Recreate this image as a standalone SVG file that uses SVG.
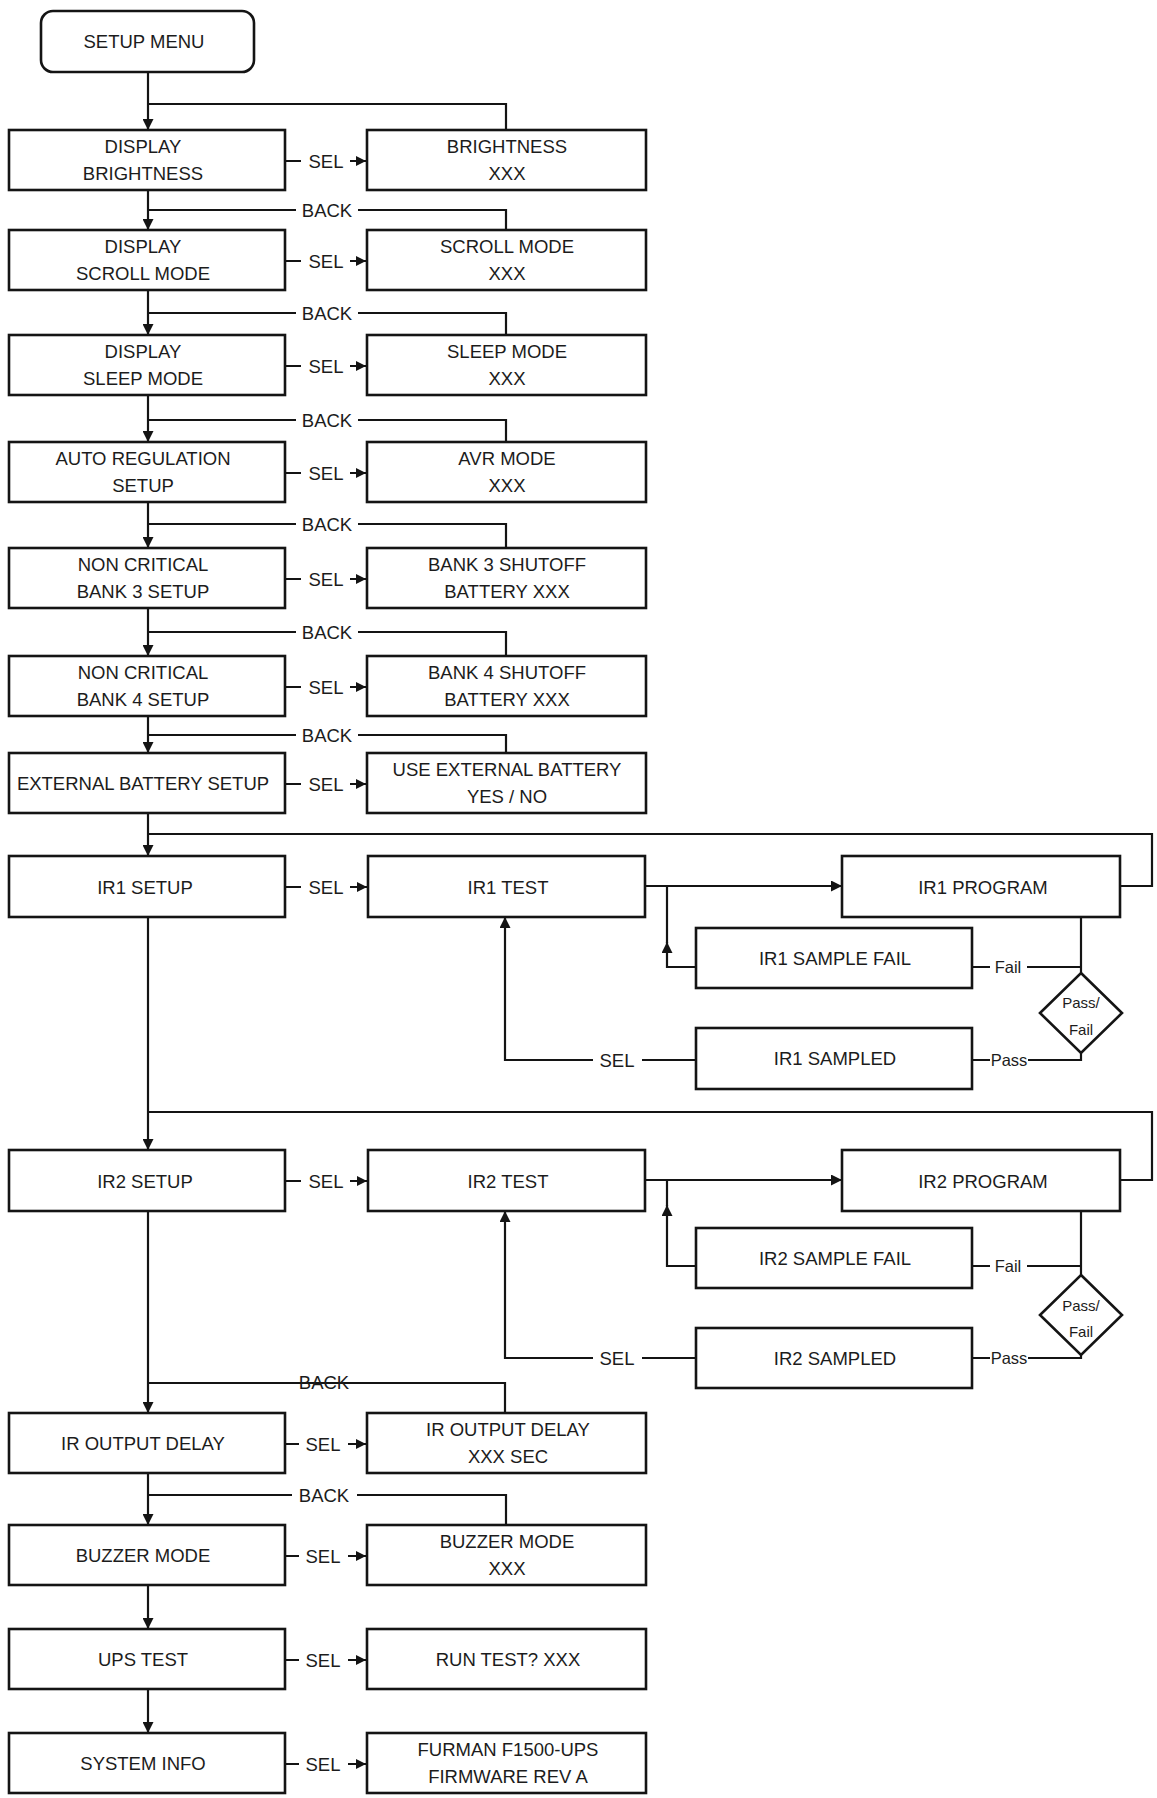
<svg xmlns="http://www.w3.org/2000/svg" width="1157" height="1798" viewBox="0 0 1157 1798">
<style>
.box{fill:#fff;stroke:#141414;stroke-width:2.6}
.ln{fill:none;stroke:#141414;stroke-width:2.2}
.t{font-family:"Liberation Sans",Arial,sans-serif;font-size:18.5px;fill:#1c1c1c;text-anchor:middle}
.s{font-size:16.5px}
.d{font-size:15px}
</style>
<defs>
<marker id="ah" viewBox="0 0 10 10" refX="10" refY="5" markerWidth="11" markerHeight="11" markerUnits="userSpaceOnUse" orient="auto"><path d="M0,0 L10,5 L0,10 z" fill="#141414"/></marker>
<marker id="as" viewBox="0 0 10 10" refX="10" refY="5" markerWidth="10" markerHeight="10" markerUnits="userSpaceOnUse" orient="auto"><path d="M0,0 L10,5 L0,10 z" fill="#141414"/></marker>
</defs>
<rect width="1157" height="1798" fill="#fff"/>

<g id="connectors">
<path class="ln" d="M148,72 V130" marker-end="url(#ah)"/>
<path class="ln" d="M148,190 V230" marker-end="url(#ah)"/>
<path class="ln" d="M148,290 V335" marker-end="url(#ah)"/>
<path class="ln" d="M148,394 V442" marker-end="url(#ah)"/>
<path class="ln" d="M148,501 V548" marker-end="url(#ah)"/>
<path class="ln" d="M148,608 V656" marker-end="url(#ah)"/>
<path class="ln" d="M148,716 V753" marker-end="url(#ah)"/>
<path class="ln" d="M148,813 V856" marker-end="url(#ah)"/>
<path class="ln" d="M148,917 V1150" marker-end="url(#ah)"/>
<path class="ln" d="M148,1211 V1413" marker-end="url(#ah)"/>
<path class="ln" d="M148,1473 V1525" marker-end="url(#ah)"/>
<path class="ln" d="M148,1585 V1629" marker-end="url(#ah)"/>
<path class="ln" d="M148,1689 V1733" marker-end="url(#ah)"/>

<path class="ln" d="M148,104 H506 V130"/>
<path class="ln" d="M148,210 H296 M358,210 H506 V230"/>
<text class="t" x="327" y="216.5">BACK</text>
<path class="ln" d="M148,313 H296 M358,313 H506 V335"/>
<text class="t" x="327" y="319.5">BACK</text>
<path class="ln" d="M148,420 H296 M358,420 H506 V442"/>
<text class="t" x="327" y="426.5">BACK</text>
<path class="ln" d="M148,524 H296 M358,524 H506 V548"/>
<text class="t" x="327" y="530.5">BACK</text>
<path class="ln" d="M148,632 H296 M358,632 H506 V656"/>
<text class="t" x="327" y="638.5">BACK</text>
<path class="ln" d="M148,735 H296 M358,735 H506 V753"/>
<text class="t" x="327" y="741.5">BACK</text>
<path class="ln" d="M148,1383 H505 V1413"/>
<text class="t" x="324" y="1388.5">BACK</text>
<path class="ln" d="M148,1495 H292 M357,1495 H506 V1525"/>
<text class="t" x="324" y="1501.5">BACK</text>

<path class="ln" d="M285,161 H301 M350,161 H366" marker-end="url(#as)"/>
<text class="t" x="326" y="167.5">SEL</text>
<path class="ln" d="M285,261 H301 M350,261 H366" marker-end="url(#as)"/>
<text class="t" x="326" y="267.5">SEL</text>
<path class="ln" d="M285,366 H301 M350,366 H366" marker-end="url(#as)"/>
<text class="t" x="326" y="372.5">SEL</text>
<path class="ln" d="M285,473 H301 M350,473 H366" marker-end="url(#as)"/>
<text class="t" x="326" y="479.5">SEL</text>
<path class="ln" d="M285,579 H301 M350,579 H366" marker-end="url(#as)"/>
<text class="t" x="326" y="585.5">SEL</text>
<path class="ln" d="M285,687 H301 M350,687 H366" marker-end="url(#as)"/>
<text class="t" x="326" y="693.5">SEL</text>
<path class="ln" d="M285,784 H301 M350,784 H366" marker-end="url(#as)"/>
<text class="t" x="326" y="790.5">SEL</text>
<path class="ln" d="M285,887 H301 M350,887 H367" marker-end="url(#as)"/>
<text class="t" x="326" y="893.5">SEL</text>
<path class="ln" d="M285,1181 H301 M350,1181 H367" marker-end="url(#as)"/>
<text class="t" x="326" y="1187.5">SEL</text>
<path class="ln" d="M285,1444 H299 M348,1444 H366" marker-end="url(#as)"/>
<text class="t" x="323" y="1450.5">SEL</text>
<path class="ln" d="M285,1556 H299 M348,1556 H366" marker-end="url(#as)"/>
<text class="t" x="323" y="1562.5">SEL</text>
<path class="ln" d="M285,1660 H299 M348,1660 H366" marker-end="url(#as)"/>
<text class="t" x="323" y="1666.5">SEL</text>
<path class="ln" d="M285,1764 H299 M348,1764 H366" marker-end="url(#as)"/>
<text class="t" x="323" y="1770.5">SEL</text>

<!-- IR1 -->
<path class="ln" d="M1120,886 H1152 V834 H148"/>
<path class="ln" d="M645,886 H842" marker-end="url(#ah)"/>
<path class="ln" d="M696,967 H667 V942" marker-end="url(#ah)"/>
<path class="ln" d="M667,943 V886"/>
<path class="ln" d="M972,967 H990 M1027,967 H1081 M1081,917 V973"/>
<text class="t s" x="1008" y="973">Fail</text>
<path class="ln" d="M1081,1053 V1060 H1028 M990,1060 H972"/>
<text class="t s" x="1009" y="1066">Pass</text>
<path class="ln" d="M696,1060 H642 M593,1060 H505 V917" marker-end="url(#ah)"/>
<text class="t" x="617" y="1066.5">SEL</text>

<!-- IR2 -->
<path class="ln" d="M1120,1180 H1152 V1112 H148"/>
<path class="ln" d="M645,1180 H842" marker-end="url(#ah)"/>
<path class="ln" d="M696,1266 H667 V1205" marker-end="url(#ah)"/>
<path class="ln" d="M667,1206 V1180"/>
<path class="ln" d="M972,1266 H990 M1027,1266 H1081 M1081,1211 V1275"/>
<text class="t s" x="1008" y="1272">Fail</text>
<path class="ln" d="M1081,1355 V1358 H1028 M990,1358 H972"/>
<text class="t s" x="1009" y="1364">Pass</text>
<path class="ln" d="M696,1358 H642 M593,1358 H505 V1211" marker-end="url(#ah)"/>
<text class="t" x="617" y="1364.5">SEL</text>
</g>

<g id="setup-menu"><rect class="box" x="41" y="11" width="213" height="61" rx="12"/><text class="t" x="144" y="48">SETUP MENU</text></g>

<g id="display-brightness"><rect class="box" x="9" y="130" width="276" height="60"/><text class="t" x="143" y="153">DISPLAY</text><text class="t" x="143" y="180">BRIGHTNESS</text></g>
<g id="brightness-xxx"><rect class="box" x="367" y="130" width="279" height="60"/><text class="t" x="507" y="153">BRIGHTNESS</text><text class="t" x="507" y="180">XXX</text></g>

<g id="display-scroll"><rect class="box" x="9" y="230" width="276" height="60"/><text class="t" x="143" y="253">DISPLAY</text><text class="t" x="143" y="280">SCROLL MODE</text></g>
<g id="scroll-xxx"><rect class="box" x="367" y="230" width="279" height="60"/><text class="t" x="507" y="253">SCROLL MODE</text><text class="t" x="507" y="280">XXX</text></g>

<g id="display-sleep"><rect class="box" x="9" y="335" width="276" height="60"/><text class="t" x="143" y="358">DISPLAY</text><text class="t" x="143" y="385">SLEEP MODE</text></g>
<g id="sleep-xxx"><rect class="box" x="367" y="335" width="279" height="60"/><text class="t" x="507" y="358">SLEEP MODE</text><text class="t" x="507" y="385">XXX</text></g>

<g id="auto-reg"><rect class="box" x="9" y="442" width="276" height="60"/><text class="t" x="143" y="465">AUTO REGULATION</text><text class="t" x="143" y="492">SETUP</text></g>
<g id="avr-xxx"><rect class="box" x="367" y="442" width="279" height="60"/><text class="t" x="507" y="465">AVR MODE</text><text class="t" x="507" y="492">XXX</text></g>

<g id="bank3"><rect class="box" x="9" y="548" width="276" height="60"/><text class="t" x="143" y="571">NON CRITICAL</text><text class="t" x="143" y="598">BANK 3 SETUP</text></g>
<g id="bank3-shutoff"><rect class="box" x="367" y="548" width="279" height="60"/><text class="t" x="507" y="571">BANK 3 SHUTOFF</text><text class="t" x="507" y="598">BATTERY XXX</text></g>

<g id="bank4"><rect class="box" x="9" y="656" width="276" height="60"/><text class="t" x="143" y="679">NON CRITICAL</text><text class="t" x="143" y="706">BANK 4 SETUP</text></g>
<g id="bank4-shutoff"><rect class="box" x="367" y="656" width="279" height="60"/><text class="t" x="507" y="679">BANK 4 SHUTOFF</text><text class="t" x="507" y="706">BATTERY XXX</text></g>

<g id="ext-batt"><rect class="box" x="9" y="753" width="276" height="60"/><text class="t" x="143" y="790">EXTERNAL BATTERY SETUP</text></g>
<g id="use-ext"><rect class="box" x="367" y="753" width="279" height="60"/><text class="t" x="507" y="776">USE EXTERNAL BATTERY</text><text class="t" x="507" y="803">YES / NO</text></g>

<g id="ir1-setup"><rect class="box" x="9" y="856" width="276" height="61"/><text class="t" x="145" y="893.5">IR1 SETUP</text></g>
<g id="ir1-test"><rect class="box" x="368" y="856" width="277" height="61"/><text class="t" x="508" y="893.5">IR1 TEST</text></g>
<g id="ir1-program"><rect class="box" x="842" y="856" width="278" height="61"/><text class="t" x="983" y="893.5">IR1 PROGRAM</text></g>
<g id="ir1-fail"><rect class="box" x="696" y="928" width="276" height="60"/><text class="t" x="835" y="965">IR1 SAMPLE FAIL</text></g>
<g id="ir1-sampled"><rect class="box" x="696" y="1028" width="276" height="61"/><text class="t" x="835" y="1065">IR1 SAMPLED</text></g>
<g id="ir1-passfail"><path class="box" d="M1081,973 L1122,1013 L1081,1053 L1040,1013 Z"/><text class="t d" x="1081" y="1008">Pass/</text><text class="t d" x="1081" y="1035">Fail</text></g>

<g id="ir2-setup"><rect class="box" x="9" y="1150" width="276" height="61"/><text class="t" x="145" y="1187.5">IR2 SETUP</text></g>
<g id="ir2-test"><rect class="box" x="368" y="1150" width="277" height="61"/><text class="t" x="508" y="1187.5">IR2 TEST</text></g>
<g id="ir2-program"><rect class="box" x="842" y="1150" width="278" height="61"/><text class="t" x="983" y="1187.5">IR2 PROGRAM</text></g>
<g id="ir2-fail"><rect class="box" x="696" y="1228" width="276" height="60"/><text class="t" x="835" y="1265">IR2 SAMPLE FAIL</text></g>
<g id="ir2-sampled"><rect class="box" x="696" y="1328" width="276" height="60"/><text class="t" x="835" y="1365">IR2 SAMPLED</text></g>
<g id="ir2-passfail"><path class="box" d="M1081,1275 L1122,1315 L1081,1355 L1040,1315 Z"/><text class="t d" x="1081" y="1311">Pass/</text><text class="t d" x="1081" y="1337">Fail</text></g>

<g id="ir-delay"><rect class="box" x="9" y="1413" width="276" height="60"/><text class="t" x="143" y="1450">IR OUTPUT DELAY</text></g>
<g id="ir-delay-sec"><rect class="box" x="367" y="1413" width="279" height="60"/><text class="t" x="508" y="1436">IR OUTPUT DELAY</text><text class="t" x="508" y="1463">XXX SEC</text></g>

<g id="buzzer"><rect class="box" x="9" y="1525" width="276" height="60"/><text class="t" x="143" y="1562">BUZZER MODE</text></g>
<g id="buzzer-xxx"><rect class="box" x="367" y="1525" width="279" height="60"/><text class="t" x="507" y="1548">BUZZER MODE</text><text class="t" x="507" y="1575">XXX</text></g>

<g id="ups-test"><rect class="box" x="9" y="1629" width="276" height="60"/><text class="t" x="143" y="1666">UPS TEST</text></g>
<g id="run-test"><rect class="box" x="367" y="1629" width="279" height="60"/><text class="t" x="508" y="1666">RUN TEST? XXX</text></g>

<g id="system-info"><rect class="box" x="9" y="1733" width="276" height="60"/><text class="t" x="143" y="1770">SYSTEM INFO</text></g>
<g id="firmware"><rect class="box" x="367" y="1733" width="279" height="60"/><text class="t" x="508" y="1756">FURMAN F1500-UPS</text><text class="t" x="508" y="1783">FIRMWARE REV A</text></g>
</svg>
